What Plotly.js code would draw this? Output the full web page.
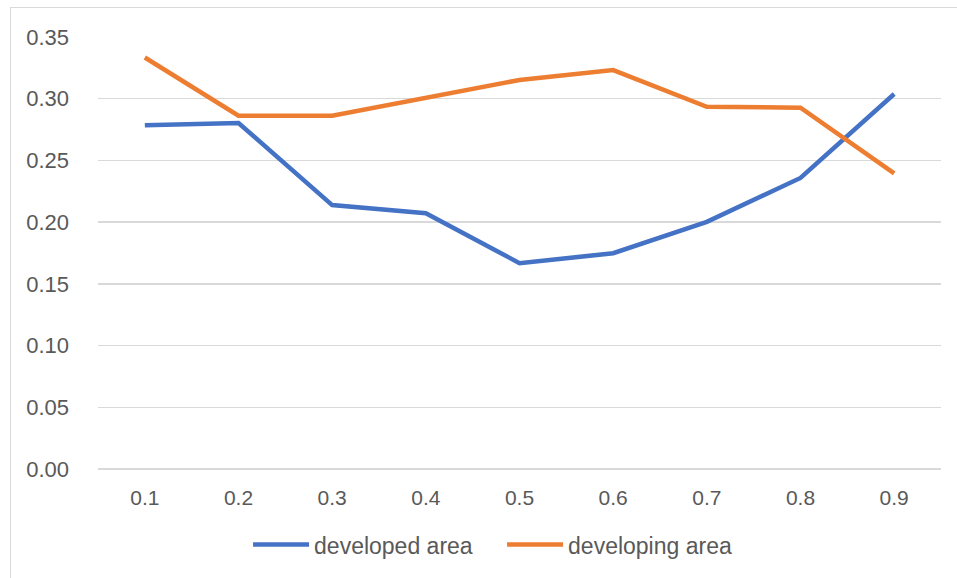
<!DOCTYPE html>
<html>
<head>
<meta charset="utf-8">
<script src="https://cdn.plot.ly/plotly-3.0.1.min.js"></script>
<style>
  html, body { margin: 0; padding: 0; background: #ffffff; }
  #chart { position: absolute; left: 0; top: 0; width: 957px; height: 578px; }
  #frame { position: absolute; left: 10px; top: 7px; width: 960px; height: 600px;
           border-left: 1px solid #d9d9d9; border-top: 1px solid #d9d9d9; pointer-events: none; }
</style>
</head>
<body>
<div id="chart"></div>
<div id="frame"></div>
<script>
const categories = ["0.1", "0.2", "0.3", "0.4", "0.5", "0.6", "0.7", "0.8", "0.9"];
const developedArea = [0.2785, 0.2803, 0.2138, 0.2072, 0.1668, 0.1748, 0.2002, 0.2358, 0.3038];
const developingArea = [0.3334, 0.2862, 0.2862, 0.3008, 0.3152, 0.3232, 0.2935, 0.2927, 0.2395];
const yTicks = [0, 0.05, 0.10, 0.15, 0.20, 0.25, 0.30, 0.35];
const yTickText = ["0.00", "0.05", "0.10", "0.15", "0.20", "0.25", "0.30", "0.35"];

const textColor = "#595959";
const gridColor = "#d9d9d9";

const traces = [
  {
    type: "scatter", mode: "lines", name: "developed area",
    x: categories, y: developedArea,
    line: { color: "#4472c4", width: 4.5 }
  },
  {
    type: "scatter", mode: "lines", name: "developing area",
    x: categories, y: developingArea,
    line: { color: "#ed7d31", width: 4.5 }
  }
];

const layout = {
  width: 957, height: 578,
  margin: { l: 98, r: 16, t: 37, b: 106, pad: 0 },
  paper_bgcolor: "#ffffff", plot_bgcolor: "#ffffff",
  font: { family: "Liberation Sans, Arial, sans-serif", size: 22, color: textColor },
  showlegend: true,
  xaxis: {
    type: "category",
    range: [-0.5, categories.length - 0.5],
    showgrid: false, zeroline: false, showline: false,
    ticks: "", ticklabelstandoff: 14,
    tickfont: { size: 21, color: textColor }
  },
  yaxis: {
    range: [0, 0.35],
    tickvals: yTicks, ticktext: yTickText,
    showgrid: true, gridcolor: gridColor, gridwidth: 1.5,
    zeroline: true, zerolinecolor: gridColor, zerolinewidth: 1.5,
    showline: false, ticks: "", ticklabelstandoff: 28,
    tickfont: { size: 22, color: textColor }
  },
  legend: {
    orientation: "h",
    x: 0.178, xanchor: "left",
    y: -0.175, yanchor: "middle",
    font: { size: 23, color: textColor },
    bgcolor: "rgba(0,0,0,0)",
    itemwidth: 56,
    entrywidth: 183, entrywidthmode: "pixels"
  }
};

Plotly.newPlot("chart", traces, layout, { displayModeBar: false, staticPlot: true });
</script>
</body>
</html>
